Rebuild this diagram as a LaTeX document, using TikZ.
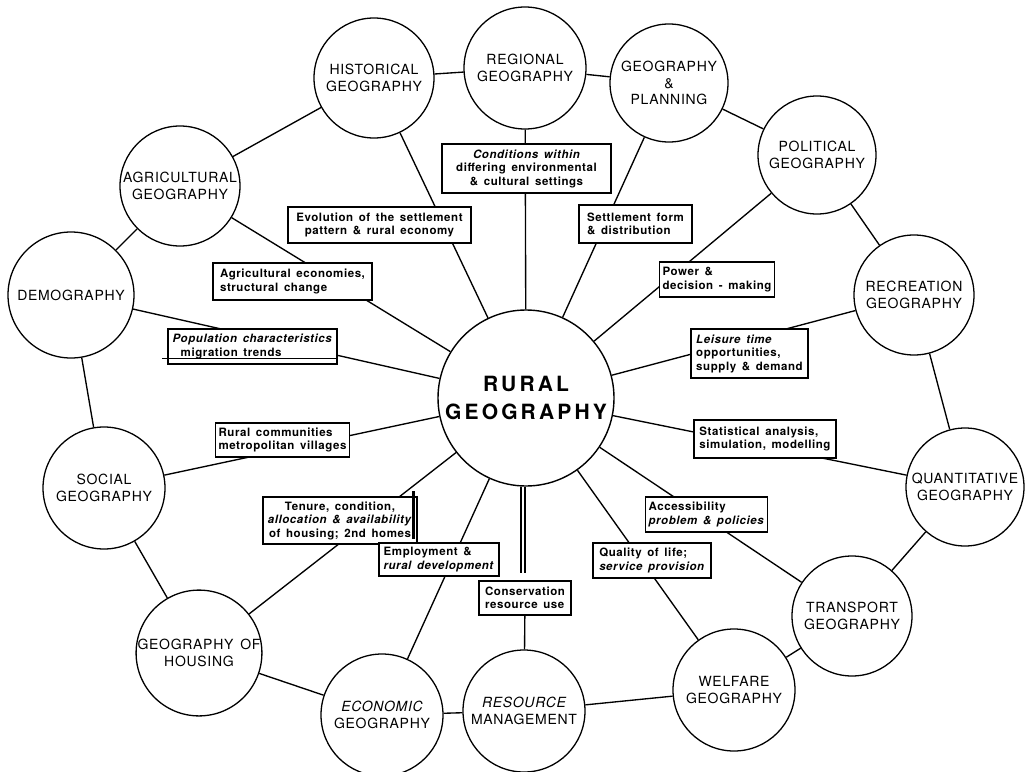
\documentclass[tikz,border=0pt]{standalone}
\usepackage{fontspec}
\setmainfont{TeX Gyre Heros}
\newfontfamily\circfont[LetterSpace=5]{TeX Gyre Heros}
\newfontfamily\boxfont[LetterSpace=5,WordSpace=1.5]{TeX Gyre Heros}
\newfontfamily\ruralfont[LetterSpace=15]{TeX Gyre Heros}
\begin{document}
\begin{tikzpicture}[x=1pt,y=-1pt,
  topic/.style={circle, draw, line width=1.3pt, fill=white, inner sep=0pt, align=center,
    font=\circfont\fontsize{14}{16.8}\selectfont},
  hub/.style={circle, draw, line width=1.4pt, fill=white, inner sep=0pt, align=center,
    font=\ruralfont\bfseries\fontsize{21}{28}\selectfont},
  link/.style={line width=1.35pt},
  lbox/.style={draw, line width=1.5pt, fill=white, inner sep=3pt, align=left,
    font=\boxfont\bfseries\fontsize{11.5}{13.5}\selectfont}]
\fill[white] (0,0) rectangle (1025,771);
\useasboundingbox (0,0) rectangle (1025,771);

% outer topics
\node[topic, minimum size=120pt] (hist)  at (374,78)  {HISTORICAL\\GEOGRAPHY};
\node[topic, minimum size=122pt] (reg)   at (525,68)  {REGIONAL\\GEOGRAPHY};
\node[topic, minimum size=118pt] (gp)    at (669,83)  {GEOGRAPHY\\\&\\PLANNING};
\node[topic, minimum size=118pt] (pol)   at (817,155) {POLITICAL\\GEOGRAPHY};
\node[topic, minimum size=120pt] (rec)   at (914,295) {RECREATION\\GEOGRAPHY};
\node[topic, minimum size=118pt] (quant) at (965,487) {QUANTITATIVE\\GEOGRAPHY};
\node[topic, minimum size=120pt] (trans) at (852,616) {TRANSPORT\\GEOGRAPHY};
\node[topic, minimum size=122pt] (welf)  at (734,690) {WELFARE\\GEOGRAPHY};
\node[topic, minimum size=122pt] (res)   at (524,711) {\itshape RESOURCE\\MANAGEMENT};
\node[topic, minimum size=122pt] (econ)  at (382,715) {\itshape ECONOMIC\\GEOGRAPHY};
\node[topic, minimum size=124pt] (hous)  at (199,653) {GEOGRAPHY OF\\HOUSING};
\node[topic, minimum size=122pt] (soc)   at (104,488) {SOCIAL\\GEOGRAPHY};
\node[topic, minimum size=126pt] (demo)  at (71,295)  {DEMOGRAPHY};
\node[topic, minimum size=120pt] (agri)  at (180,186) {AGRICULTURAL\\GEOGRAPHY};

% centre
\node[hub, minimum size=176pt] (rural) at (526,398) {RURAL\\GEOGRAPHY};

% ring
\draw[link] (hist) -- (reg);
\draw[link] (reg) -- (gp);
\draw[link] (gp) -- (pol);
\draw[link] (pol) -- (rec);
\draw[link] (rec) -- (quant);
\draw[link] (quant) -- (trans);
\draw[link] (trans) -- (welf);
\draw[link] (welf) -- (res);
\draw[link] (res) -- (econ);
\draw[link] (econ) -- (hous);
\draw[link] (hous) -- (soc);
\draw[link] (soc) -- (demo);
\draw[link] (demo) -- (agri);
\draw[link] (agri) -- (hist);

% spokes
\foreach \t in {hist,reg,gp,pol,rec,quant,trans,welf,econ,hous,soc,demo,agri}
  \draw[link] (\t) -- (rural);

% label boxes
\node[lbox, align=center, minimum width=183pt, minimum height=36pt] (evo) at (379.5,225)
  {Evolution of the settlement\\pattern \& rural economy};
\node[lbox, align=center, minimum width=169pt, minimum height=49pt] (cond) at (526.5,168.5)
  {\itshape Conditions within\\differing environmental\\\& cultural settings};
\node[lbox, minimum width=113pt, minimum height=38pt] (sett) at (635.5,224)
  {Settlement form\\\& distribution};
\node[lbox, minimum width=114pt, minimum height=35pt] (power) at (717,279.5)
  {Power \&\\decision - making};
\node[lbox, minimum width=117pt, minimum height=49pt] (leis) at (749.5,353.5)
  {\textit{Leisure time}\\opportunities,\\supply \& demand};
\node[lbox, minimum width=142pt, minimum height=38pt] (stat) at (765,439)
  {Statistical analysis,\\simulation, modelling};
\node[lbox, minimum width=121pt, minimum height=35pt] (acc) at (706.5,514.5)
  {Accessibility\\\textit{problem \& policies}};
\node[lbox, minimum width=118pt, minimum height=35pt] (qual) at (652,560.5)
  {Quality of life;\\\textit{service provision}};
\node[lbox, align=center, minimum width=154pt, minimum height=47pt] (ten) at (340,520.5)
  {Tenure, condition,\\\textit{allocation \& availability}\\of housing; 2nd homes};
\node[lbox, minimum width=120pt, minimum height=33pt] (emp) at (439,559.5)
  {Employment \&\\\textit{rural development}};
\node[lbox, minimum width=131pt, minimum height=34pt] (rurc) at (282.5,440)
  {Rural communities\\metropolitan villages};
\node[lbox, minimum width=169pt, minimum height=35pt] (pop) at (252.5,346.5)
  {\textit{Population characteristics}\\\hspace*{8pt}migration trends};
\node[lbox, minimum width=159pt, minimum height=37pt] (agr) at (292.5,281.5)
  {Agricultural economies,\\structural change};

% conservation: box, single line to resource, double line to centre
\node[lbox, minimum width=92pt, minimum height=34pt] (cons) at (525,598)
  {Conservation\\resource use};
\draw[link] (cons) -- (res);
\coordinate (consgap) at (523,573);
\draw[line width=1.8pt, double, double distance=2.6pt] (rural.south -| consgap) -- (consgap);

% stray heavy bar by the tenure box, and rule under the population box
\draw[line width=2.8pt] ([xshift=-4pt, yshift=5pt]ten.north east) -- ([xshift=-4pt, yshift=6pt]ten.south east);
\draw[line width=1.3pt] ([xshift=-5pt, yshift=6pt]pop.south west) -- ([yshift=6pt]pop.south east);
\end{tikzpicture}
\end{document}
